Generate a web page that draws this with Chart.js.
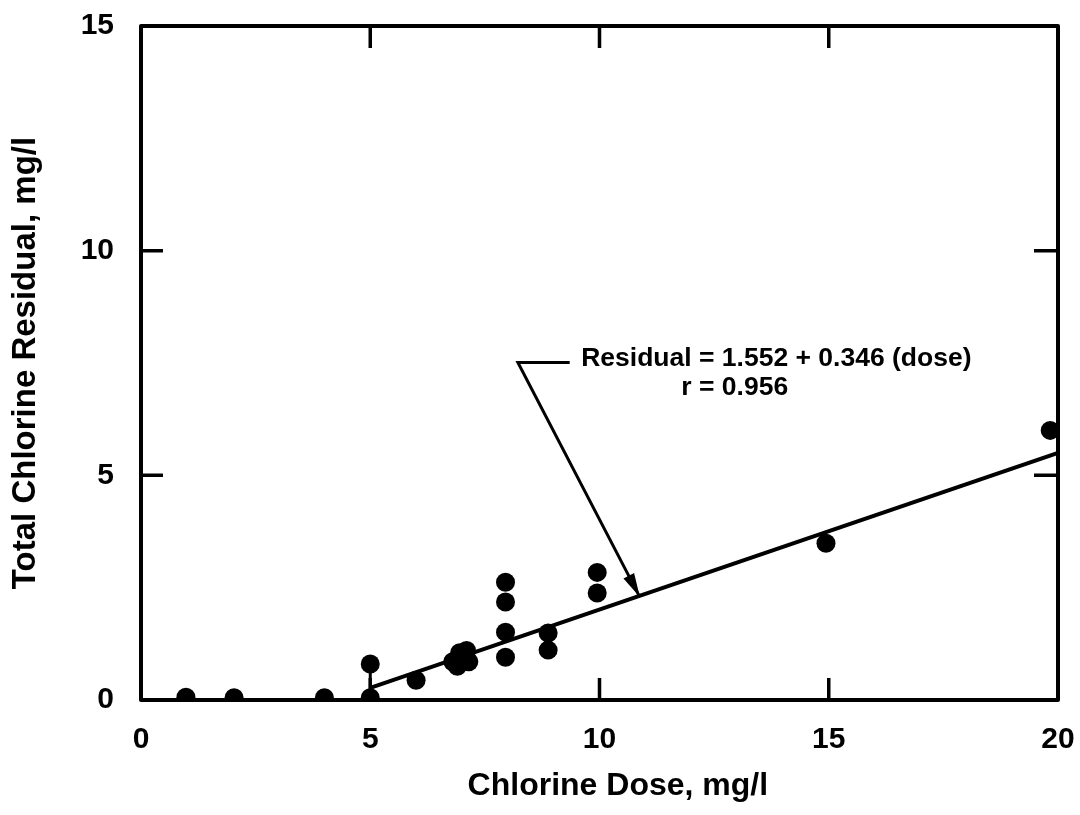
<!DOCTYPE html>
<html>
<head>
<meta charset="utf-8">
<script src="https://cdn.jsdelivr.net/npm/chart.js@4.4.1/dist/chart.umd.min.js"></script>
<style>
  html, body { margin: 0; background: #fff; }
</style>
</head>
<body>
<canvas id="doseChart" width="1080" height="815"></canvas>
<script>
// measured points, chlorine dose (mg/l) vs total residual (mg/l)
const doseValues     = [0.98, 2.03, 4.0, 5.0, 5.0, 6.0, 6.8, 6.95, 7.1, 6.9, 7.15, 7.95, 7.95, 7.95, 7.95, 8.88, 8.88, 9.95, 9.95, 14.94, 19.83];
const residualValues = [0.06, 0.05, 0.05, 0.05, 0.8, 0.44, 0.85, 1.05, 1.1, 0.75, 0.85, 2.62, 2.18, 1.51, 0.95, 1.49, 1.11, 2.84, 2.38, 3.49, 6.0];

// fitted line as drawn
const fitDose     = [5, 20];
const fitResidual = [0.27, 5.5];

// short stem under the point at dose 5
const stemDose     = [5, 5];
const stemResidual = [0.05, 0.8];

// leader from the equation to the line
const leaderDose     = [9.35, 8.22, 10.88];
const leaderResidual = [7.51, 7.51, 2.29];

const xTicks = [0, 5, 10, 15, 20];
const yTicks = [0, 5, 10, 15];
const equationText = ['Residual = 1.552 + 0.346 (dose)', 'r = 0.956'];
const xTitle = 'Chlorine Dose, mg/l';

const FONT = '"Liberation Sans", Arial, Helvetica, sans-serif';

const toPoints = (xs, ys) => xs.map((x, i) => ({ x, y: ys[i] }));

const framePlugin = {
  id: 'frame',
  afterDraw(chart) {
    const { ctx, chartArea: a, scales: { x, y } } = chart;
    ctx.save();
    ctx.strokeStyle = '#000';
    ctx.lineWidth = 4;
    ctx.lineJoin = 'round';
    ctx.strokeRect(a.left, a.top, a.right - a.left, a.bottom - a.top);

    // inward ticks on all four sides
    ctx.lineWidth = 3.5;
    ctx.beginPath();
    xTicks.slice(1, -1).forEach(v => {
      const px = x.getPixelForValue(v);
      ctx.moveTo(px, a.bottom); ctx.lineTo(px, a.bottom - 22);
      ctx.moveTo(px, a.top); ctx.lineTo(px, a.top + 22);
    });
    yTicks.slice(1, -1).forEach(v => {
      const py = y.getPixelForValue(v);
      ctx.moveTo(a.left, py); ctx.lineTo(a.left + 22, py);
      ctx.moveTo(a.right, py); ctx.lineTo(a.right - 24, py);
    });
    ctx.stroke();

    // arrow head at end of leader
    const n = leaderDose.length;
    const tx = x.getPixelForValue(leaderDose[n - 1]), ty = y.getPixelForValue(leaderResidual[n - 1]);
    const fx = x.getPixelForValue(leaderDose[n - 2]), fy = y.getPixelForValue(leaderResidual[n - 2]);
    const ang = Math.atan2(ty - fy, tx - fx);
    const len = 24, half = 6;
    ctx.fillStyle = '#000';
    ctx.beginPath();
    ctx.moveTo(tx, ty);
    ctx.lineTo(tx - len * Math.cos(ang) + half * Math.sin(ang), ty - len * Math.sin(ang) - half * Math.cos(ang));
    ctx.lineTo(tx - len * Math.cos(ang) - half * Math.sin(ang), ty - len * Math.sin(ang) + half * Math.cos(ang));
    ctx.closePath();
    ctx.fill();

    // equation text
    ctx.font = 'bold 26.5px ' + FONT;
    ctx.textBaseline = 'middle';
    ctx.textAlign = 'left';
    ctx.fillText(equationText[0], x.getPixelForValue(9.6), y.getPixelForValue(7.6));
    ctx.textAlign = 'center';
    ctx.fillText(equationText[1], x.getPixelForValue(12.95), y.getPixelForValue(6.96));

    // x axis title, sits a bit right of centre in the original
    ctx.font = 'bold 32px ' + FONT;
    ctx.fillText(xTitle, x.getPixelForValue(10.4), 786);
    ctx.restore();
  }
};

new Chart(document.getElementById('doseChart'), {
  type: 'scatter',
  data: {
    datasets: [
      {
        data: toPoints(fitDose, fitResidual),
        showLine: true, borderColor: '#000', borderWidth: 4,
        pointRadius: 0, order: 2
      },
      {
        data: toPoints(stemDose, stemResidual),
        showLine: true, borderColor: '#000', borderWidth: 3,
        pointRadius: 0, order: 2
      },
      {
        data: toPoints(leaderDose, leaderResidual),
        showLine: true, borderColor: '#000', borderWidth: 3,
        pointRadius: 0, order: 2
      },
      {
        data: toPoints(doseValues, residualValues),
        pointRadius: 9.5, backgroundColor: '#000', borderWidth: 0,
        order: 1
      }
    ]
  },
  options: {
    responsive: false,
    animation: false,
    devicePixelRatio: 1,
    layout: { padding: { top: 26, right: 22, left: 0, bottom: 0 } },
    plugins: { legend: { display: false }, tooltip: { enabled: false } },
    scales: {
      x: {
        type: 'linear', min: 0, max: 20,
        afterBuildTicks: s => { s.ticks = xTicks.map(v => ({ value: v })); },
        afterFit: s => { s.height = 115; s.paddingLeft = 0; s.paddingRight = 0; },
        grid: { display: false },
        border: { display: false },
        ticks: { color: '#000', padding: 14, font: { family: FONT, size: 30, weight: 'bold' } }
      },
      y: {
        type: 'linear', min: 0, max: 15,
        afterBuildTicks: s => { s.ticks = yTicks.map(v => ({ value: v })); },
        afterFit: s => { s.width = 141; s.paddingTop = 0; s.paddingBottom = 0; },
        grid: { display: false },
        border: { display: false },
        ticks: { color: '#000', padding: 19, font: { family: FONT, size: 30, weight: 'bold' } },
        title: {
          display: true, text: 'Total Chlorine Residual, mg/l', color: '#000',
          padding: { top: 6, bottom: 0 },
          font: { family: FONT, size: 33, weight: 'bold' }
        }
      }
    }
  },
  plugins: [framePlugin]
});
</script>
</body>
</html>
